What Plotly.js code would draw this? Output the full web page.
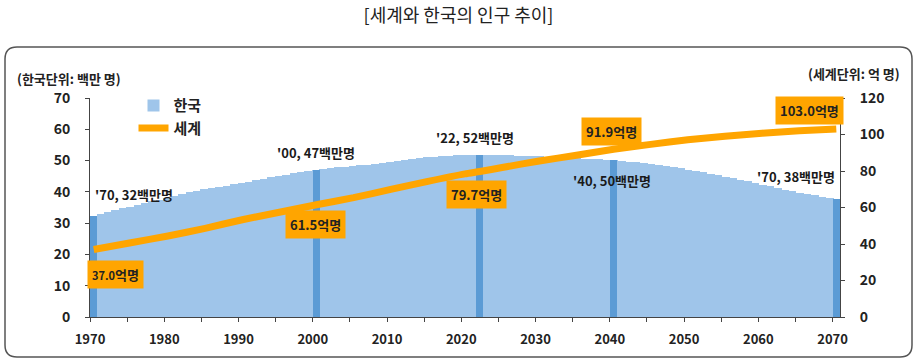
<!DOCTYPE html>
<html>
<head>
<meta charset="utf-8">
<script src="https://cdn.plot.ly/plotly-3.0.1.min.js"></script>
<style>
html,body{margin:0;padding:0;background:#fff;}
#chart{width:917px;height:364px;}
</style>
</head>
<body>
<div id="chart"></div>
<script>
// Korea population (millions), yearly 1970-2070
const koreaYears = [];
for (let y = 1970; y <= 2070; y++) koreaYears.push(y);
const koreaPop = [
  32.24, 32.88, 33.51, 34.10, 34.69, 35.28, 35.85, 36.41, 36.97, 37.53,
  38.12, 38.72, 39.33, 39.91, 40.41, 40.81, 41.21, 41.62, 42.03, 42.45,
  42.87, 43.30, 43.75, 44.19, 44.64, 45.09, 45.53, 45.95, 46.29, 46.62,
  47.01, 47.36, 47.62, 47.86, 48.04, 48.18, 48.44, 48.68, 49.05, 49.31,
  49.55, 49.94, 50.20, 50.43, 50.75, 51.01, 51.22, 51.36, 51.59, 51.76,
  51.84, 51.77, 51.67, 51.71, 51.75, 51.68, 51.63, 51.56, 51.49, 51.41,
  51.31, 51.20, 51.09, 50.99, 50.88, 50.78, 50.66, 50.53, 50.38, 50.22,
  50.06, 49.87, 49.66, 49.43, 49.17, 48.89, 48.58, 48.25, 47.90, 47.52,
  47.11, 46.68, 46.24, 45.79, 45.32, 44.84, 44.34, 43.84, 43.33, 42.82,
  42.30, 41.78, 41.26, 40.74, 40.22, 39.70, 39.29, 38.88, 38.47, 38.06,
  37.66
];
// Highlighted Korea years and labels
const hlYears = [1970, 2000, 2022, 2040, 2070];
const hlLabels = ["'70, 32백만명", "'00, 47백만명", "'22, 52백만명", "'40, 50백만명", "'70, 38백만명"];

// World population (억 명)
const worldYears = [1970,1975,1980,1985,1990,1995,2000,2005,2010,2015,2020,2022,2025,2030,2035,2040,2045,2050,2055,2060,2065,2070];
const worldPop   = [37.0,40.7,44.4,48.6,53.3,57.4,61.5,65.4,69.9,74.3,78.4,79.7,81.9,85.5,88.6,91.9,94.6,97.1,99.0,100.7,102.0,103.0];
const worldLabelYears = [1970, 2000, 2022, 2040, 2070];
const worldLabels = ["<span style='font-size:11px'>37.0</span>억명", "61.5억명", "79.7억명", "91.9억명", "103.0억명"];

// Axis ticks
const xTickVals = [1970,1980,1990,2000,2010,2020,2030,2040,2050,2060,2070];
const xTickText = ["1970","1980","1990","2000","2010","2020","2030","2040","2050","2060","2070"];

const FONT = "Noto Sans CJK KR";
const LIGHT = "#9fc5ea";
const DARK = "#5b9bd5";
const ORANGE = "#ffa500";

const hlPop = hlYears.map(y => koreaPop[koreaYears.indexOf(y)]);
const wlPop = worldLabelYears.map(y => worldPop[worldYears.indexOf(y)]);

const traces = [
  {
    type: 'bar', name: '한국',
    x: koreaYears.map(y => y + 0.5), y: koreaPop, width: 1.25,
    marker: {color: LIGHT, line: {width: 0}},
    hoverinfo: 'skip'
  },
  {
    type: 'bar', name: '한국 강조', showlegend: false,
    x: hlYears.map(y => y + 0.5), y: hlPop, width: 0.95,
    marker: {color: DARK, line: {width: 0}},
    hoverinfo: 'skip'
  },
  {
    type: 'scatter', mode: 'lines', name: '세계', yaxis: 'y2',
    x: worldYears.map(y => y + 0.5), y: worldPop,
    line: {color: ORANGE, width: 7, shape: 'spline', smoothing: 0.6},
    hoverinfo: 'skip'
  }
];

// Korea label offsets [xanchor, xshift, yshift]
const kOff = [['left', -1, 22], ['center', 0, 17], ['center', -5, 18], ['center', -2, -20], ['right', 1, 23]];
// World label offsets [xshift, yshift]
const wOff = [[22, -25], [-1, -20], [-3, -23], [-2, 18], [-27, 19]];

const annotations = [];
hlYears.forEach((y, i) => {
  annotations.push({
    x: y + 0.5, y: hlPop[i], xref: 'x', yref: 'y',
    text: hlLabels[i], showarrow: false,
    xanchor: kOff[i][0], yanchor: 'middle',
    xshift: kOff[i][1], yshift: kOff[i][2],
    font: {family: FONT, size: 13, color: '#1a1a1a', weight: 'bold'}
  });
});
worldLabelYears.forEach((y, i) => {
  annotations.push({
    x: y + 0.5, y: wlPop[i], xref: 'x', yref: 'y2',
    text: '<b>' + worldLabels[i] + '</b>', showarrow: false,
    xanchor: 'center', yanchor: 'middle',
    xshift: wOff[i][0], yshift: wOff[i][1],
    bgcolor: ORANGE, borderpad: 4,
    font: {family: FONT, size: 13, color: '#222'}
  });
});
annotations.push({
  x: -0.1, y: 1.091, xref: 'paper', yref: 'paper', xanchor: 'left', yanchor: 'middle',
  text: '<b>(한국단위: 백만 명)</b>', showarrow: false,
  font: {family: FONT, size: 13, color: '#222'}
});
annotations.push({
  x: 1.0827, y: 1.114, xref: 'paper', yref: 'paper', xanchor: 'right', yanchor: 'middle',
  text: '<b>(세계단위: 억 명)</b>', showarrow: false,
  font: {family: FONT, size: 13, color: '#222'}
});

// Rounded frame (paper coords computed from pixel frame)
const L = 90, T = 98, PW = 750, PH = 219;
const px = v => (v - L) / PW;
const py = v => (T + PH - v) / PH;
const fx0 = 5, fx1 = 912, fy0 = 47, fy1 = 357, r = 12;
const framePath =
  `M${px(fx0 + r)},${py(fy0)} L${px(fx1 - r)},${py(fy0)} Q${px(fx1)},${py(fy0)} ${px(fx1)},${py(fy0 + r)} ` +
  `L${px(fx1)},${py(fy1 - r)} Q${px(fx1)},${py(fy1)} ${px(fx1 - r)},${py(fy1)} ` +
  `L${px(fx0 + r)},${py(fy1)} Q${px(fx0)},${py(fy1)} ${px(fx0)},${py(fy1 - r)} ` +
  `L${px(fx0)},${py(fy0 + r)} Q${px(fx0)},${py(fy0)} ${px(fx0 + r)},${py(fy0)} Z`;

const axisCommon = {
  showgrid: false, zeroline: false, showline: true, linecolor: '#444', linewidth: 1,
  ticks: 'outside', ticklen: 4, tickcolor: '#444', tickwidth: 1,
  tickfont: {family: FONT, size: 14, color: '#222', weight: 'bold'}
};

const layout = {
  width: 917, height: 364,
  margin: {l: 90, r: 77, t: 98, b: 47},
  paper_bgcolor: '#fff', plot_bgcolor: '#fff',
  barmode: 'overlay', bargap: 0,
  showlegend: true,
  title: {
    text: '[세계와 한국의 인구 추이]',
    x: 0.5, xref: 'container', xanchor: 'center',
    y: 1 - 16 / 364, yref: 'container', yanchor: 'middle',
    font: {family: FONT, size: 18, color: '#222'}
  },
  legend: {
    x: 0.058, y: 1.04, xanchor: 'left', yanchor: 'top',
    bgcolor: 'rgba(0,0,0,0)', tracegroupgap: 0,
    font: {family: FONT, size: 15, color: '#222', weight: 'bold'}
  },
  xaxis: Object.assign({}, axisCommon, {
    range: [1970, 2071], tickmode: 'array', tickvals: xTickVals, ticktext: xTickText,
    tickfont: {family: FONT, size: 13, color: '#222', weight: 'bold'},
    ticklabelstandoff: 6,
    minor: {dtick: 5, tick0: 1970, ticks: 'outside', ticklen: 4, tickcolor: '#444', showgrid: false}
  }),
  yaxis: Object.assign({}, axisCommon, {
    range: [0, 70], dtick: 10, ticklabelstandoff: 12
  }),
  yaxis2: Object.assign({}, axisCommon, {
    range: [0, 120], dtick: 20, overlaying: 'y', side: 'right', ticklabelstandoff: 12
  }),
  annotations: annotations,
  shapes: [{
    type: 'path', xref: 'paper', yref: 'paper', path: framePath,
    line: {color: '#555', width: 1.5}, fillcolor: 'rgba(0,0,0,0)', layer: 'below'
  }]
};

Plotly.newPlot('chart', traces, layout, {displayModeBar: false, staticPlot: true});
</script>
</body>
</html>
